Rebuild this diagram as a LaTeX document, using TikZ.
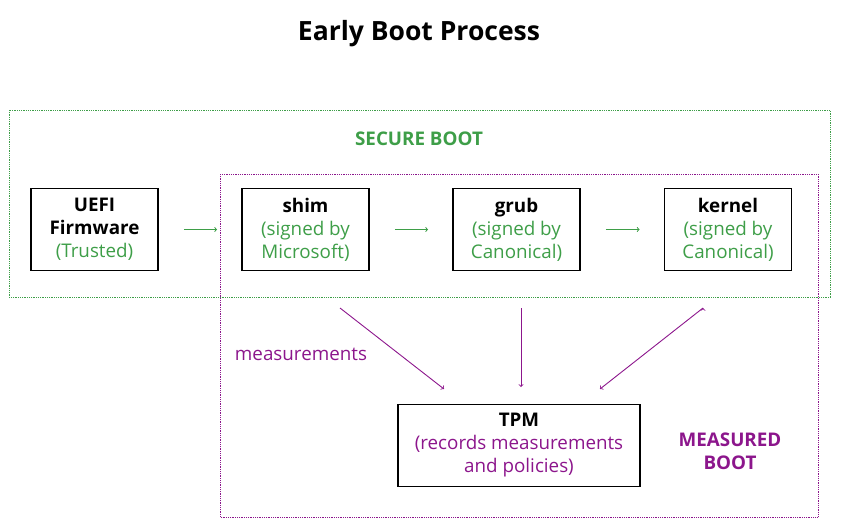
\documentclass[tikz,border=0pt]{standalone}
\usepackage{fontspec}
\setmainfont{Open Sans}
\usetikzlibrary{arrows,calc}

\definecolor{sbgreen}{RGB}{62,158,72}
\definecolor{mbpurple}{RGB}{140,22,140}
\newcommand{\gtext}[1]{\textcolor{sbgreen}{#1}}
\newcommand{\ptext}[1]{\textcolor{mbpurple}{#1}}

\begin{document}
\begin{tikzpicture}[x=1pt,y=-1pt,->,>=to,line width=0.9pt,
  box node/.style={rectangle,draw=black,line width=1.8pt,minimum width=127pt,minimum height=82pt,
    inner sep=0pt,align=center,font=\fontsize{18.8}{23}\selectfont},
  zone/.style={-,densely dotted,line width=0.8pt}]
\useasboundingbox (0,0) rectangle (843,527);

\node[font=\fontsize{26.5}{30}\selectfont\bfseries](title) at (419,34) {Early Boot Process};

% the two zones
\draw[zone,draw=sbgreen] (9,110) rectangle (830,297);
\draw[zone,draw=mbpurple] (220,174) rectangle (818,517);
\node[font=\fontsize{18.8}{23}\selectfont\bfseries,text=sbgreen](sb) at (419,139) {SECURE BOOT};
\node[font=\fontsize{18.8}{23}\selectfont\bfseries,text=mbpurple,align=center](mb) at (730,451) {MEASURED\\BOOT};

\node[box node](uefi) at (94.5,229.5) {\textbf{UEFI}\\\textbf{Firmware}\\\gtext{(Trusted)}};
\node[box node](shim) at (305.5,229.5) {\textbf{shim}\\\gtext{(signed by}\\\gtext{Microsoft)}};
\node[box node](grub) at (516.5,229.5) {\textbf{grub}\\\gtext{(signed by}\\\gtext{Canonical)}};
\node[box node](kernel) at (728,229.5) {\textbf{kernel}\\\gtext{(signed by}\\\gtext{Canonical)}};
\node[box node,minimum width=242pt](tpm) at (519,445.5) {\textbf{TPM}\\\ptext{(records measurements}\\\ptext{and policies)}};

\node[font=\fontsize{18.8}{23}\selectfont,text=mbpurple](meas) at (301,354) {measurements};

\coordinate (m1) at (340,308);
\coordinate (m2) at (521,308);
\coordinate (m3) at (703,308);
\coordinate (t1) at (444,389);
\coordinate (t2) at (521,387);
\coordinate (t3) at (600,389);

\path[draw=sbgreen,shorten <=25pt,shorten >=24pt]
(uefi) edge (shim)
(shim) edge (grub)
(grub) edge (kernel);

\path[draw=mbpurple]
(m1) edge (t1)
(m2) edge (t2)
(m3) edge (t3);
\end{tikzpicture}
\end{document}
